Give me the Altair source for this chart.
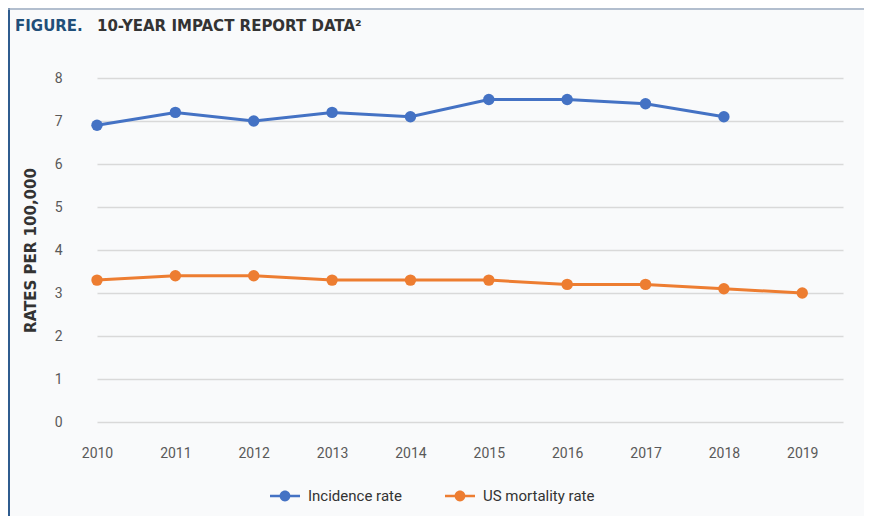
import altair as alt
import pandas as pd

years = [2010, 2011, 2012, 2013, 2014, 2015, 2016, 2017, 2018, 2019]
incidence = [6.9, 7.2, 7.0, 7.2, 7.1, 7.5, 7.5, 7.4, 7.1, None]
mortality = [3.3, 3.4, 3.4, 3.3, 3.3, 3.3, 3.2, 3.2, 3.1, 3.0]
series_names = ["Incidence rate", "US mortality rate"]
series_colors = ["#4472C4", "#ED7D31"]

rows = []
for name, vals in zip(series_names, [incidence, mortality]):
    for y, v in zip(years, vals):
        if v is not None:
            rows.append({"year": y, "rate": v, "series": name})
df = pd.DataFrame(rows)

FONT = "Roboto"
TFONT = "DejaVu Sans"

legend_symbol = ("M-1,-0.08L1,-0.08L1,0.08L-1,0.08Z "
                 "M-0.36,0A0.36,0.36 0 1,1 0.36,0A0.36,0.36 0 1,1 -0.36,0Z")

color = alt.Color(
    "series:N",
    scale=alt.Scale(domain=series_names, range=series_colors),
    legend=alt.Legend(
        title=None, orient="none", direction="horizontal", legendX=173, legendY=403,
        symbolType=legend_symbol, symbolSize=900, symbolStrokeWidth=0,
        labelFont=FONT, labelFontSize=15, labelColor="#333333",
        columnPadding=43, labelOffset=8,
    ),
)

x = alt.X(
    "year:Q",
    scale=alt.Scale(domain=[2010, 2019.52], nice=False, zero=False),
    axis=alt.Axis(
        values=years, format="d", title=None, grid=False, domain=False, ticks=False,
        labelFont=FONT, labelFontSize=14, labelColor="#595959", labelPadding=24,
        labelFlush=False,
    ),
)
y = alt.Y(
    "rate:Q",
    scale=alt.Scale(domain=[0, 8], nice=False),
    axis=alt.Axis(
        values=list(range(0, 9)), title="RATES PER 100,000", domain=False, ticks=False,
        grid=True, gridColor="#d9d9d9", gridWidth=1.5,
        labelFont=FONT, labelFontSize=14, labelColor="#595959", labelPadding=35,
        titleFont=TFONT, titleFontSize=15, titleFontWeight="bold", titleColor="#333333",
        titlePadding=16,
    ),
)

base = alt.Chart(df)
lines = base.mark_line(strokeWidth=3).encode(x=x, y=y, color=color, detail="series:N")
points = base.mark_point(filled=True, size=130, opacity=1).encode(
    x=x, y=y, color=alt.Color("series:N", scale=alt.Scale(domain=series_names, range=series_colors), legend=None)
)

one = pd.DataFrame({"a": [0]})
t1 = alt.Chart(one).mark_text(
    text="FIGURE.", font=TFONT, fontSize=15, fontWeight="bold", color="#1F4E79",
    align="left", baseline="alphabetic",
).encode(x=alt.value(-82), y=alt.value(-47))
t2 = alt.Chart(one).mark_text(
    text="10-YEAR IMPACT REPORT DATA²", font=TFONT, fontSize=15, fontWeight="bold", color="#333333",
    align="left", baseline="alphabetic",
).encode(x=alt.value(0), y=alt.value(-47))
border_left = alt.Chart(one).mark_rule(color="#2F5C8F", strokeWidth=2).encode(
    x=alt.value(-88), y=alt.value(-70), y2=alt.value(438)
)
border_top = alt.Chart(one).mark_rule(color="#9AAABF", strokeWidth=1.5).encode(
    x=alt.value(-89), x2=alt.value(767), y=alt.value(-69)
)

chart = alt.layer(lines, points, t1, t2, border_left, border_top).properties(
    width=746, height=344,
    autosize=alt.AutoSizeParams(type="none"),
    padding={"left": 89, "top": 70, "right": 21, "bottom": 94},
    background="#F9FAFB",
).configure_view(stroke=None)

chart.save("out.html", embed_options={"renderer": "svg", "actions": False})
